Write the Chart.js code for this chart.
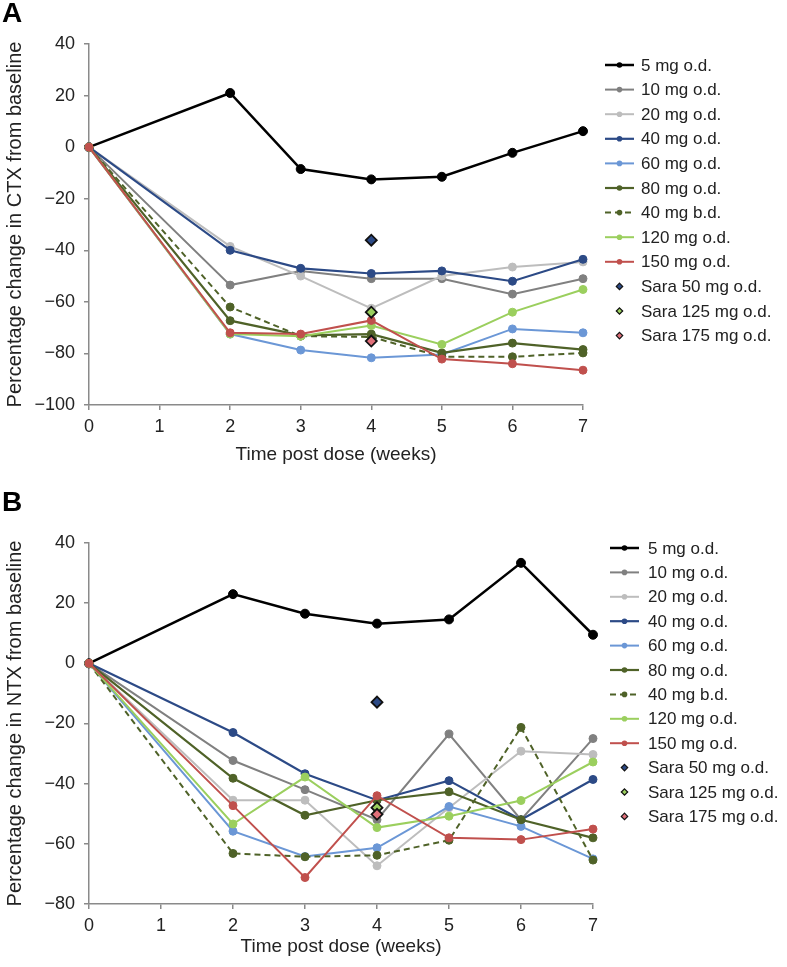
<!DOCTYPE html>
<html><head><meta charset="utf-8">
<script src="https://cdn.jsdelivr.net/npm/chart.js@4.4.0/dist/chart.umd.min.js"></script>
<style>
html,body{margin:0;padding:0;background:#fff;}
#wrap{position:relative;width:787px;height:967px;overflow:hidden;}
canvas{position:absolute;left:0;}
</style></head><body>
<div id="wrap">
<canvas id="cA" width="787" height="480" style="top:0px;width:787px;height:480px"></canvas>
<canvas id="cB" width="787" height="487" style="top:480px;width:787px;height:487px"></canvas>
</div>
<script>
// ---- data ----
const weeks = [0, 2, 3, 4, 5, 6, 7];
const saraWeek = 4;
const lineNames = ['5 mg o.d.', '10 mg o.d.', '20 mg o.d.', '40 mg o.d.', '60 mg o.d.', '80 mg o.d.', '40 mg b.d.', '120 mg o.d.', '150 mg o.d.'];
const saraNames = ['Sara 50 mg o.d.', 'Sara 125 mg o.d.', 'Sara 175 mg o.d.'];

// Panel A: CTX
const ctx5mg   = [0, 21, -8.5, -12.5, -11.5, -2.2, 6.2];
const ctx10mg  = [0, -53.5, -48, -51, -51, -57, -51];
const ctx20mg  = [0, -38.5, -50, -62.5, -50, -46.5, -44.5];
const ctx40mg  = [0, -40, -47, -49, -48, -52, -43.5];
const ctx60mg  = [0, -72.5, -78.7, -81.7, -80.4, -70.5, -72];
const ctx80mg  = [0, -67.3, -73, -72.5, -79.8, -76, -78.5];
const ctx40bd  = [0, -62, -73.3, -73.6, -81.3, -81.3, -79.8];
const ctx120mg = [0, -72.5, -73.3, -69.2, -76.5, -64, -55.2];
const ctx150mg = [0, -72, -72.5, -67.2, -82.2, -84, -86.5];
const ctxSara  = [-36.1, -64, -75.2];

// Panel B: NTX
const ntx5mg   = [0, 23, 16.5, 13.2, 14.6, 33.4, 9.5];
const ntx10mg  = [0, -32.3, -42, -52, -23.5, -52, -25];
const ntx20mg  = [0, -45.5, -45.5, -67.3, -48, -29.2, -30.3];
const ntx40mg  = [0, -23, -36.7, -45.5, -39, -52, -38.6];
const ntx60mg  = [0, -55.8, -64.2, -61.3, -47.6, -54.2, -65];
const ntx80mg  = [0, -38.2, -50.5, -45.5, -42.7, -52, -58];
const ntx40bd  = [0, -63.2, -64.3, -63.8, -58.8, -21.3, -65.4];
const ntx120mg = [0, -53.4, -37.8, -54.6, -50.8, -45.6, -32.8];
const ntx150mg = [0, -47.3, -71.2, -44, -58, -58.6, -55.1];
const ntxSara  = [-12.9, -48, -50.2];

const xTicks = [0, 1, 2, 3, 4, 5, 6, 7];

// ---- styles ----
const lineColors = ['#000000', '#808080', '#bdbdbd', '#2c4a86', '#6b97d6', '#4f6228', '#4f6228', '#9bcf5e', '#c0504d'];
const lineWidths = [2.5, 2, 2, 2.2, 2, 2.2, 2, 2, 2];
const lineDashes = [[], [], [], [], [], [], [6, 4], [], []];
const saraFill = ['#2c4a86', '#9bcf5e', '#e0707a'];
const FONT = '"Liberation Sans", Arial, Helvetica, sans-serif';
const AXIS = '#8a8a8a';
const TXT = '#222222';

function buildDatasets(lines, sara) {
  const ds = [];
  const n = lines.length + sara.length;
  lines.forEach((vals, i) => {
    ds.push({
      label: lineNames[i],
      data: weeks.map((w, k) => ({x: w, y: vals[k]})),
      borderColor: lineColors[i],
      backgroundColor: lineColors[i],
      borderWidth: lineWidths[i],
      borderDash: lineDashes[i],
      pointRadius: i === 0 ? 4.5 : 4,
      pointBorderWidth: 1,
      pointBorderColor: lineColors[i],
      pointBackgroundColor: lineColors[i],
      pointStyle: 'circle',
      tension: 0,
      clip: false,
      order: n - i
    });
  });
  sara.forEach((v, i) => {
    ds.push({
      label: saraNames[i],
      data: [{x: saraWeek, y: v}],
      showLine: false,
      pointStyle: 'rectRot',
      pointRadius: 5.5,
      pointBorderWidth: 1.8,
      pointBorderColor: '#111',
      pointBackgroundColor: saraFill[i],
      borderColor: '#111',
      backgroundColor: saraFill[i],
      clip: false,
      order: n - lines.length - i - 1 - 20
    });
  });
  return ds;
}

const legendPlugin = {
  id: 'customLegend',
  afterDraw(chart, args, opts) {
    const c = chart.ctx;
    c.save();
    c.fillStyle = '#000';
    c.font = 'bold 28px ' + FONT;
    c.textBaseline = 'top';
    c.textAlign = 'left';
    c.fillText(opts.letter, opts.letterX, opts.letterY);
    c.font = opts.fontSize + 'px ' + FONT;
    c.textBaseline = 'middle';
    chart.data.datasets.forEach((d, i) => {
      const y = opts.y0 + i * opts.dy;
      const mx = (opts.lx0 + opts.lx1) / 2;
      if (d.showLine === false) {
        c.beginPath();
        const r = 3.2;
        c.moveTo(mx, y - r); c.lineTo(mx + r, y); c.lineTo(mx, y + r); c.lineTo(mx - r, y); c.closePath();
        c.fillStyle = d.pointBackgroundColor; c.fill();
        c.lineWidth = 1.2; c.strokeStyle = '#111'; c.stroke();
      } else {
        c.beginPath();
        c.setLineDash(d.borderDash || []);
        c.lineWidth = d.borderWidth;
        c.strokeStyle = d.borderColor;
        c.moveTo(opts.lx0, y); c.lineTo(opts.lx1, y); c.stroke();
        c.setLineDash([]);
        c.beginPath(); c.arc(mx, y, 2.8, 0, Math.PI * 2);
        c.fillStyle = d.borderColor; c.fill();
      }
      c.fillStyle = TXT;
      c.fillText(d.label, opts.tx, y + 1);
    });
    c.restore();
  }
};

const minus = v => (v < 0 ? '\u2212' + Math.abs(v) : String(v));

function makeChart(id, lines, sara, cfg) {
  return new Chart(document.getElementById(id), {
    type: 'line',
    data: {datasets: buildDatasets(lines, sara)},
    plugins: [legendPlugin],
    options: {
      responsive: false,
      animation: false,
      events: [],
      layout: {padding: {top: cfg.top, right: cfg.right, left: 0, bottom: 0}},
      plugins: {
        legend: {display: false},
        tooltip: {enabled: false},
        customLegend: cfg.legend
      },
      scales: {
        x: {
          type: 'linear', min: 0, max: 7,
          afterFit: s => { s.height = cfg.xh; },
          afterBuildTicks: s => { s.ticks = xTicks.map(v => ({value: v})); },
          grid: {display: true, drawOnChartArea: false, drawTicks: true, tickLength: 5, color: AXIS, lineWidth: 1.5},
          border: {display: true, color: AXIS, width: 1.5},
          ticks: {color: TXT, font: {family: FONT, size: 18}, padding: 6, maxRotation: 0},
          title: {display: true, text: 'Time post dose (weeks)', color: TXT, font: {family: FONT, size: 19}, padding: {top: 0, bottom: cfg.xtPad}}
        },
        y: {
          type: 'linear', min: cfg.ymin, max: cfg.ymax,
          afterFit: s => { s.width = 89; },
          ticks: {stepSize: 20, color: TXT, font: {family: FONT, size: 18}, padding: 9, callback: minus},
          grid: {display: true, drawOnChartArea: false, drawTicks: true, tickLength: 5, color: AXIS, lineWidth: 1.5},
          border: {display: true, color: AXIS, width: 1.5},
          title: {display: true, text: cfg.ytitle, color: TXT, font: {family: FONT, size: 20}, padding: {top: 3, bottom: 0}}
        }
      }
    }
  });
}

makeChart('cA',
  [ctx5mg, ctx10mg, ctx20mg, ctx40mg, ctx60mg, ctx80mg, ctx40bd, ctx120mg, ctx150mg], ctxSara,
  {top: 44, right: 787 - 583, xh: 480 - 405, xtPad: 14, ymin: -100, ymax: 40,
   ytitle: 'Percentage change in CTX from baseline',
   legend: {letter: 'A', letterX: 2, letterY: 0, y0: 65, dy: 24.6, lx0: 605, lx1: 634, tx: 641, fontSize: 17}});

makeChart('cB',
  [ntx5mg, ntx10mg, ntx20mg, ntx40mg, ntx60mg, ntx80mg, ntx40bd, ntx120mg, ntx150mg], ntxSara,
  {top: 543 - 480, right: 787 - 593, xh: 487 - (904 - 480), xtPad: 9, ymin: -80, ymax: 40,
   ytitle: 'Percentage change in NTX from baseline',
   legend: {letter: 'B', letterX: 2, letterY: 9, y0: 548 - 480, dy: 24.4, lx0: 610, lx1: 639, tx: 648, fontSize: 17}});
</script>
</body></html>
